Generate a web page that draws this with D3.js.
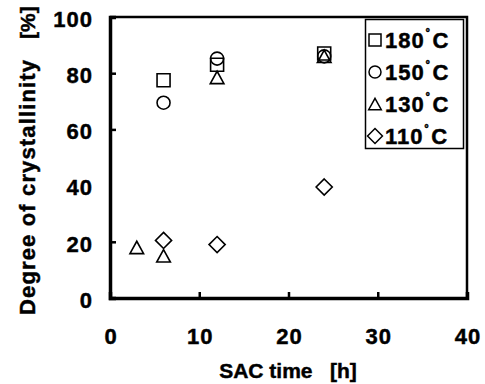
<!DOCTYPE html>
<html>
<head>
<meta charset="utf-8">
<script src="https://cdn.jsdelivr.net/npm/d3@7"></script>
<style>
body { margin: 0; background: #fff; }
</style>
</head>
<body>
<div class="graphic"></div>
<script>
var width = 485;
var height = 384;

// data
var series = ["180", "150", "130", "110"];
var times = {
	"180": [6, 12, 24],
	"150": [6, 12, 24],
	"130": [3, 6, 12, 24],
	"110": [6, 12, 24]
};
var values = {
	"180": [77.5, 83, 87],
	"150": [69.5, 85.2, 86],
	"130": [18, 15, 78.5, 86],
	"110": [20.5, 19, 39.5]
};
var xTicks = [0, 10, 20, 30, 40];
var yTicks = [0, 20, 40, 60, 80, 100];

var FONT = "Arial, 'Liberation Sans', sans-serif";
var margin = {left: 110, right: 18, top: 17, bottom: 86};

var svg = d3.select("div.graphic").append("svg")
	.attr("width", width)
	.attr("height", height);

var x = d3.scaleLinear().domain([0, 40]).range([margin.left, width - margin.right]);
var y = d3.scaleLinear().domain([0, 100]).range([height - margin.bottom, margin.top]);

function boldText(sel, size) {
	sel.style("font-family", FONT)
		.style("font-weight", "bold")
		.style("font-size", size + "px")
		.attr("fill", "#000")
		.attr("stroke", "#000")
		.attr("stroke-width", 0.45);
}

// marker shapes: square, circle, triangle, diamond (square turned 45 deg)
function marker(i, s) {
	if (i === 0) return d3.symbol().type(d3.symbolSquare).size(s * s)();
	if (i === 1) return d3.symbol().type(d3.symbolCircle).size(Math.PI * s * s / 4)();
	if (i === 2) {
		var h = s * 0.95, w = s * 1.05;
		return "M0," + (-h / 2) + "L" + (w / 2) + "," + (h / 2) + "L" + (-w / 2) + "," + (h / 2) + "Z";
	}
	var r = s * 0.62;
	return "M0," + (-r) + "L" + r + ",0L0," + r + "L" + (-r) + ",0Z";
}

// top and right frame
svg.append("path")
	.attr("d", "M" + x(0) + "," + y(100) + "H" + x(40) + "V" + y(0))
	.attr("fill", "none")
	.attr("stroke", "#000")
	.attr("stroke-width", 2.5);

var xAxis = svg.append("g")
	.attr("transform", "translate(0," + y(0) + ")")
	.call(d3.axisBottom(x).tickValues(xTicks).tickSize(-6).tickFormat(d3.format("d")));
xAxis.selectAll("text").attr("y", 30).attr("dx", "0.5px");

var yAxis = svg.append("g")
	.attr("transform", "translate(" + x(0) + ",0)")
	.call(d3.axisLeft(y).tickValues(yTicks).tickSize(-6).tickFormat(d3.format("d")));
yAxis.selectAll("text").attr("x", -17).attr("dy", "0.42em");

boldText(svg.selectAll(".tick text"), 22);
svg.selectAll(".tick text").style("letter-spacing", "1px");
svg.selectAll(".domain").attr("stroke-width", 3.5);
svg.selectAll(".tick line").attr("stroke-width", 2.5);
xAxis.select(".tick line").remove();
svg.selectAll(".tick").filter(function(d) { return d === 100 || d === 40; }).select("line").remove();

// points
series.forEach(function(s, i) {
	svg.append("g").selectAll("path")
		.data(times[s].map(function(t, j) { return [t, values[s][j]]; }))
		.enter()
		.append("path")
		.attr("d", marker(i, 13))
		.attr("transform", function(d) { return "translate(" + x(d[0]) + "," + y(d[1]) + ")"; })
		.attr("fill", "none")
		.attr("stroke", "#000")
		.attr("stroke-width", 1.6);
});

// legend
var legend = svg.append("g");
legend.append("rect")
	.attr("x", 365.5).attr("y", 19.5)
	.attr("width", 98).attr("height", 129)
	.attr("fill", "#fff")
	.attr("stroke", "#000")
	.attr("stroke-width", 1.5);

series.forEach(function(s, i) {
	var ly = 40 + i * 32;
	legend.append("path")
		.attr("d", marker(i, 12))
		.attr("transform", "translate(375," + ly + ")")
		.attr("fill", "none")
		.attr("stroke", "#000")
		.attr("stroke-width", 1.5);
	var t = legend.append("text")
		.attr("x", 385).attr("y", ly + 8)
		.style("letter-spacing", "1px");
	boldText(t, 22);
	t.append("tspan").text(s);
	t.append("tspan").attr("dx", 1).attr("dy", -8).style("font-size", "14px").text("\u02da");
	t.append("tspan").attr("dx", 1).attr("dy", 8).text("C");
});

// axis titles
var xt = svg.append("text")
	.attr("x", 288).attr("y", 378)
	.attr("text-anchor", "middle")
	.style("white-space", "pre")
	.text("SAC time   [h]");
boldText(xt, 21);

var yt = svg.append("g").attr("transform", "translate(35,0) rotate(-90)");
boldText(yt.append("text")
	.attr("x", -315)
	.attr("textLength", 255)
	.attr("lengthAdjust", "spacing")
	.text("Degree of crystallinity"), 22);
boldText(yt.append("text")
	.attr("x", -39)
	.text("[%]"), 21);
</script>
</body>
</html>
